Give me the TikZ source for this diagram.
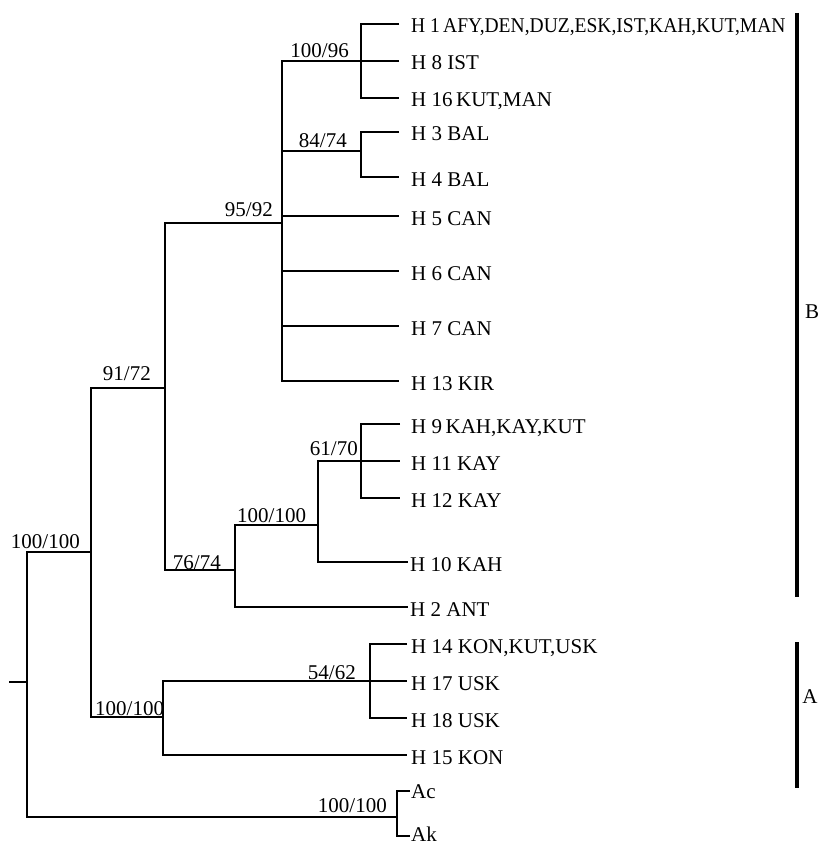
\documentclass[tikz,border=0pt]{standalone}
\usepackage{fontspec}
\setmainfont{Liberation Serif}
\newcommand\labfont{\fontsize{21}{24}\selectfont}
\begin{document}
\begin{tikzpicture}[x=1pt,y=-1pt,
  br/.style={line width=1.6pt, line join=miter},
  leaf/.style={font=\labfont, anchor=base west, inner sep=0pt},
  supE/.style={font=\labfont, anchor=base east, inner sep=0pt},
  supW/.style={font=\labfont, anchor=base west, inner sep=0pt},
  bar/.style={line width=3.2pt},
  clade/.style={font=\labfont, inner sep=0pt}]
\useasboundingbox (0,0) rectangle (824,845);
% ---- internal node points ----
\coordinate (rs) at (9,682);
\coordinate (r) at (27,682);
\coordinate (r1) at (27,552);
\coordinate (r2) at (27,817);
\coordinate (n1) at (91,552);
\coordinate (n1t) at (91,388);
\coordinate (n1b) at (91,717);
\coordinate (n2) at (165,388);
\coordinate (n2t) at (165,223);
\coordinate (n2b) at (165,570);
\coordinate (n3) at (282,223);
\coordinate (n3t) at (282,61);
\coordinate (n3b) at (282,381);
\coordinate (n4) at (361,61);
\coordinate (n4t) at (361,24);
\coordinate (n4b) at (361,98);
\coordinate (n5s) at (282,151);
\coordinate (n5) at (361,151);
\coordinate (n5t) at (361,132);
\coordinate (n5b) at (361,177);
\coordinate (n6) at (235,570);
\coordinate (n6t) at (235,525);
\coordinate (n6b) at (235,607);
\coordinate (n7) at (318,525);
\coordinate (n7t) at (318,461);
\coordinate (n7b) at (318,562);
\coordinate (n8) at (361,461);
\coordinate (n8t) at (361,424);
\coordinate (n8b) at (361,498);
\coordinate (n9) at (163,717);
\coordinate (n9t) at (163,681);
\coordinate (n9b) at (163,755);
\coordinate (n10) at (370,681);
\coordinate (n10t) at (370,644);
\coordinate (n10b) at (370,718);
\coordinate (og) at (397,817);
\coordinate (ogt) at (397,791);
\coordinate (ogb) at (397,836);
% leaf line ends
\coordinate (e1) at (399,24);
\coordinate (e8) at (399,61);
\coordinate (e16) at (399,98);
\coordinate (e3) at (399,132);
\coordinate (e4) at (399,177);
\coordinate (e5s) at (282,216);
\coordinate (e5) at (399,216);
\coordinate (e6s) at (282,271);
\coordinate (e6) at (399,271);
\coordinate (e7s) at (282,326);
\coordinate (e7) at (399,326);
\coordinate (e13) at (399,381);
\coordinate (e9) at (400,424);
\coordinate (e11) at (400,461);
\coordinate (e12) at (400,498);
\coordinate (e10) at (408,562);
\coordinate (e2) at (408,607);
\coordinate (e14) at (407,644);
\coordinate (e17) at (407,681);
\coordinate (e18) at (407,718);
\coordinate (e15) at (407,755);
\coordinate (eac) at (410,791);
\coordinate (eak) at (410,836);
% ---- branches ----
\draw[br] (rs) -- (r);
\draw[br] (n1) -- (r1) -- (r2) -- (og);
\draw[br] (n2) -- (n1t) -- (n1b) -- (n9);
\draw[br] (n3) -- (n2t) -- (n2b) -- (n6);
\draw[br] (e8) -- (n3t) -- (n3b) -- (e13);
\draw[br] (n5s) -- (n5);
\draw[br] (e5s) -- (e5);
\draw[br] (e6s) -- (e6);
\draw[br] (e7s) -- (e7);
\draw[br] (e1) -- (n4t) -- (n4b) -- (e16);
\draw[br] (e3) -- (n5t) -- (n5b) -- (e4);
\draw[br] (n7) -- (n6t) -- (n6b) -- (e2);
\draw[br] (n8) -- (n7t) -- (n7b) -- (e10);
\draw[br] (e9) -- (n8t) -- (n8b) -- (e12);
\draw[br] (n8) -- (e11);
\draw[br] (n10) -- (n9t) -- (n9b) -- (e15);
\draw[br] (e14) -- (n10t) -- (n10b) -- (e18);
\draw[br] (n10) -- (e17);
\draw[br] (eac) -- (ogt) -- (ogb) -- (eak);
% ---- leaf labels ----
\node[leaf] (h1) at (411,33) {\scalebox{0.93}[1]{H 1\,AFY,DEN,DUZ,ESK,IST,KAH,KUT,MAN}};
\node[leaf] (h8) at (411,70) {H 8 IST};
\node[leaf] (h16) at (411,107) {H 16\,KUT,MAN};
\node[leaf] (h3) at (411,141) {H 3 BAL};
\node[leaf] (h4) at (411,186) {H 4 BAL};
\node[leaf] (h5) at (411,225) {H 5 CAN};
\node[leaf] (h6) at (411,280) {H 6 CAN};
\node[leaf] (h7) at (411,335) {H 7 CAN};
\node[leaf] (h13) at (411,390) {H 13 KIR};
\node[leaf] (h9) at (411,433) {H 9\,KAH,KAY,KUT};
\node[leaf] (h11) at (411,470) {H 11 KAY};
\node[leaf] (h12) at (411,507) {H 12 KAY};
\node[leaf] (h10) at (410,571) {H 10 KAH};
\node[leaf] (h2) at (410,616) {H 2 ANT};
\node[leaf] (h14) at (411,653) {H 14 KON,KUT,USK};
\node[leaf] (h17) at (411,690) {H 17 USK};
\node[leaf] (h18) at (411,727) {H 18 USK};
\node[leaf] (h15) at (411,764) {H 15 KON};
\node[leaf] (ac) at (411,798) {Ac};
\node[leaf] (ak) at (411,841) {Ak};
% ---- support values ----
\node[supE] (s1) at (349,58) {100/96};
\node[supE] (s2) at (347,148) {84/74};
\node[supE] (s3) at (273,216) {95/92};
\node[supE] (s4) at (151,380) {91/72};
\node[supE] (s5) at (80,548) {100/100};
\node[supE] (s6) at (221,569) {76/74};
\node[supW] (s7) at (237,522) {100/100};
\node[supE] (s8) at (358,455) {61/70};
\node[supE] (s9) at (356,679) {54/62};
\node[supW] (s10) at (95,715) {100/100};
\node[supE] (s11) at (387,812) {100/100};
% ---- clade bars ----
\coordinate (bt) at (797,13);
\coordinate (bb) at (797,597);
\coordinate (at) at (797,642);
\coordinate (ab) at (797,788);
\draw[bar] (bt) -- (bb);
\draw[bar] (at) -- (ab);
\node[clade] (cB) at (812,312) {B};
\node[clade] (cA) at (810,697) {A};
\end{tikzpicture}
\end{document}
